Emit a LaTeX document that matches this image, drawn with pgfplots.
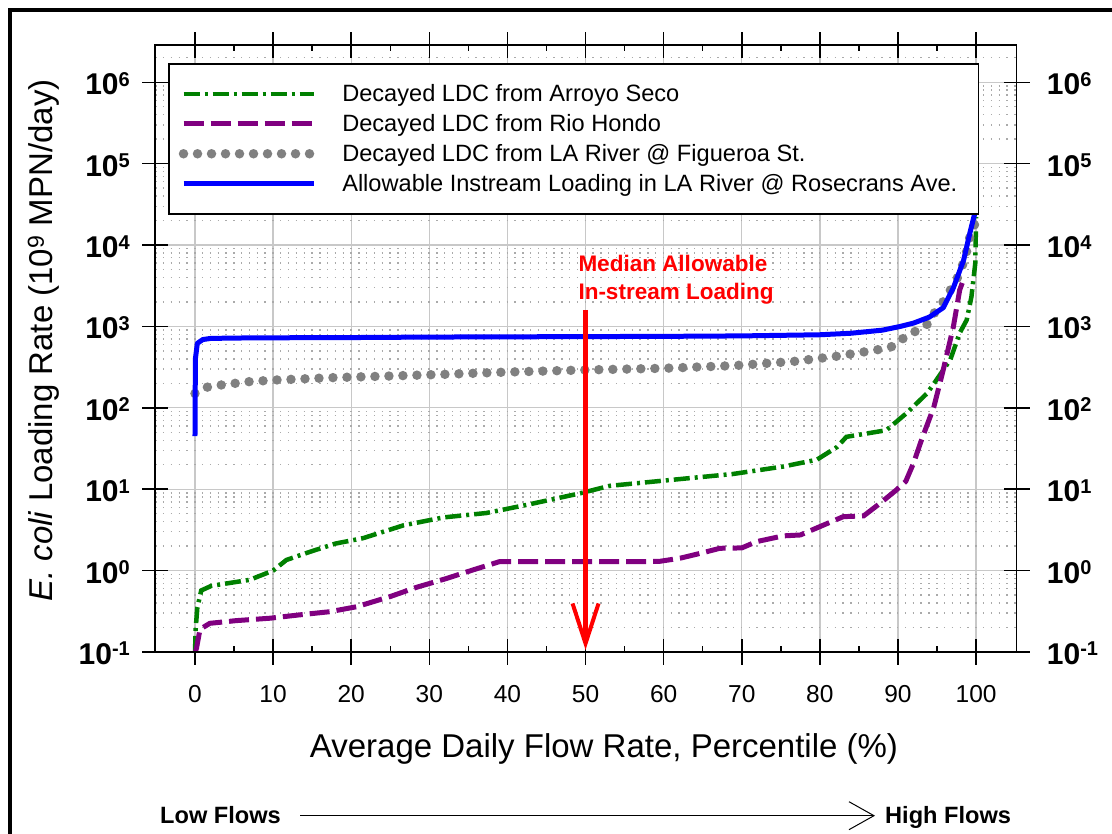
\documentclass[border=0pt]{standalone}
\usepackage{fontspec}
\setmainfont{Liberation Sans}
\usepackage{pgfplots}
\pgfplotsset{compat=1.18}
\usetikzlibrary{arrows.meta}

\definecolor{cgreen}{RGB}{0,128,0}
\definecolor{cpurple}{RGB}{128,0,128}
\definecolor{cgray}{RGB}{128,128,128}
\definecolor{cblue}{RGB}{0,0,255}
\definecolor{cred}{RGB}{255,0,0}
\definecolor{majgrid}{RGB}{200,200,200}
\definecolor{mingrid}{RGB}{170,170,170}

\newcommand{\ylab}[1]{\textbf{10\raisebox{8.5pt}{\fontsize{20}{20}\selectfont #1}}}

\begin{document}
\begin{tikzpicture}
\path[use as bounding box] (0,0) rectangle (1112pt,834pt);

% main axis: grid, data, legend, labels
\begin{axis}[
  at={(155pt,182pt)}, anchor=south west, scale only axis,
  width=861.7pt, height=607pt,
  xmin=-5.12, xmax=105.2, ymode=log, ymin=0.1, ymax=2.87e6,
  axis line style={line width=1.5pt},
  tick style={black, line width=1.5pt},
  xtick={0,10,...,100},
  ytick={0.1,1,10,100,1000,10000,100000,1000000},
  minor ytick={0.2,0.3,0.4,0.5,0.6,0.7,0.8,0.9,2,3,4,5,6,7,8,9,20,30,40,50,60,70,80,90,200,300,400,500,600,700,800,900,2000,3000,4000,5000,6000,7000,8000,9000,20000,30000,40000,50000,60000,70000,80000,90000,200000,300000,400000,500000,600000,700000,800000,900000,2000000},
  tick align=inside, major tick length=13pt, minor tick length=0pt,
  grid=both,
  major grid style={majgrid, line width=1.3pt},
  minor grid style={mingrid, line width=1.4pt, dash pattern=on 1.4pt off 6.41pt, dash phase=7.7pt},
  /pgf/number format/assume math mode=true,
  xticklabel style={font=\fontsize{24.5}{29}\selectfont, anchor=base, yshift=-51pt},
  yticklabels={\ylab{-1},\ylab{0},\ylab{1},\ylab{2},\ylab{3},\ylab{4},\ylab{5},\ylab{6}},
  yticklabel style={font=\fontsize{30}{36}\selectfont, anchor=base east, inner sep=0pt, xshift=-25pt, yshift=-12.5pt},
  legend style={at={(axis description cs:0.0151,0.9703)}, anchor=north west,
    draw=black, line width=1.5pt, fill=white, inner xsep=10pt, inner ysep=18pt,
    row sep=6pt, font=\fontsize{23.6}{28}\selectfont,
    nodes={inner sep=0pt, text height=20pt, text depth=4pt},
    /tikz/every odd column/.append style={column sep=24pt}},
  legend cell align=left,
  legend image code/.code={\draw[#1] (0pt,0pt) -- (130pt,0pt);},
]
\addplot[cgreen, line width=4.5pt, dash pattern=on 16pt off 5pt on 3pt off 5pt] coordinates {
(0,0.1) (0.1,0.2) (0.3,0.35) (0.8,0.57) (2.1,0.65) (7,0.77) (10,1.0) (11.7,1.35) (14.7,1.7) (18,2.15) (21.5,2.5) (26.7,3.6) (31.8,4.5) (37.3,5.1) (42.4,6.4) (49.3,8.9) (53.1,11) (58.7,12.4) (68.9,15.4) (75.3,19) (79.6,23) (82.2,33) (83.4,44) (88.5,53) (91.1,86) (93.7,150) (94.3,180) (96.7,390) (97.9,830) (98.8,1200) (99.4,2300) (99.9,6000) (100,22000)
};
\addlegendentry{Decayed LDC from Arroyo Seco}
\addplot[cpurple, line width=5pt, dash pattern=on 20pt off 7pt] coordinates {
(0.05,0.1) (0.2,0.112) (0.64,0.19) (1.9,0.225) (5.3,0.243) (9.6,0.26) (13.4,0.286) (17.3,0.313) (20.7,0.36) (25,0.48) (28.4,0.625) (32.2,0.8) (35.6,1.02) (39,1.29) (57,1.29) (59.5,1.3) (62.1,1.42) (64.7,1.63) (67.2,1.88) (70,1.9) (71.9,2.27) (75.3,2.67) (77.5,2.74) (80,3.47) (83,4.6) (85.6,4.7) (87.7,6.7) (89.8,9.8) (91,12.5) (92,21) (93,40) (94.6,103) (95.8,294) (97.1,1000) (97.9,2800) (98.4,3800)
};
\addlegendentry{Decayed LDC from Rio Hondo}
\addplot[cgray, line width=9.5pt, line cap=round, dash pattern=on 0pt off 14pt] coordinates {
(0,150) (1.5,179) (3.4,191) (7,210) (10.5,220) (17.7,235) (25,246) (32,258) (40,275) (50,292) (60,306) (69,330) (76.6,371) (82,428) (87.3,515) (89.2,565) (90.7,716) (92.4,890) (94,1100) (94.8,1550) (96,2130) (97.7,4100) (98.6,6900) (99.2,12600) (100,20000)
};
\addlegendentry{Decayed LDC from LA River @ Figueroa St.}
\addplot[cblue, line width=5pt, line join=round] coordinates {
(0,45) (0.05,400) (0.3,620) (1,690) (2,712) (5,720) (10,725) (20,730) (30,740) (40,745) (50,750) (60,755) (70,765) (80,790) (84,825) (88,900) (90.3,1000) (92,1100) (94,1300) (95.8,1700) (97.1,3000) (98.4,6500) (99.2,14000) (99.9,26000)
};
\addlegendentry{Allowable Instream Loading in LA River @ Rosecrans Ave.\hspace*{11pt}}
\draw[cred, line width=5pt, -{Straight Barb[length=40pt, width=26pt, line width=4pt]}] (axis cs:50,1595) -- (axis cs:50,0.106);
\end{axis}

% outside halves of major ticks, right labels
\begin{axis}[
  at={(155pt,182pt)}, anchor=south west, scale only axis,
  width=861.7pt, height=607pt,
  xmin=-5.12, xmax=105.2, ymode=log, ymin=0.1, ymax=2.87e6,
  axis line style={line width=1.5pt},
  tick style={black, line width=1.5pt},
  xtick={0,10,...,100}, xticklabels={},
  ytick={0.1,1,10,100,1000,10000,100000,1000000},
  tick align=outside, major tick length=13pt, minor tick length=0pt,
  yticklabel pos=right,
  yticklabels={\ylab{-1},\ylab{0},\ylab{1},\ylab{2},\ylab{3},\ylab{4},\ylab{5},\ylab{6}},
  yticklabel style={font=\fontsize{30}{36}\selectfont, anchor=base west, inner sep=0pt, xshift=17pt, yshift=-12.5pt},
]
\end{axis}

% minor ticks
\begin{axis}[
  at={(155pt,182pt)}, anchor=south west, scale only axis,
  width=861.7pt, height=607pt,
  xmin=-5.12, xmax=105.2, ymode=log, ymin=0.1, ymax=2.87e6,
  axis line style={line width=1.5pt},
  tick style={black, line width=1.5pt},
  xtick={5,15,...,95}, xticklabels={},
  ytick=\empty,
  minor ytick={0.2,0.3,0.4,0.5,0.6,0.7,0.8,0.9,2,3,4,5,6,7,8,9,20,30,40,50,60,70,80,90,200,300,400,500,600,700,800,900,2000,3000,4000,5000,6000,7000,8000,9000,20000,30000,40000,50000,60000,70000,80000,90000,200000,300000,400000,500000,600000,700000,800000,900000,2000000},
  tick align=inside, major tick length=6.5pt, minor tick length=10pt,
]
\end{axis}

\node[anchor=base west, inner sep=0pt, text=cred, font=\bfseries\fontsize{22.5}{27}\selectfont] at (578.3pt,562.3pt) {Median Allowable};
\node[anchor=base west, inner sep=0pt, text=cred, font=\bfseries\fontsize{22.5}{27}\selectfont] at (578.3pt,534pt) {In-stream Loading};

\node[anchor=base, inner sep=0pt, font=\fontsize{33}{40}\selectfont] at (604pt,76pt) {Average Daily Flow Rate, Percentile (\%)};
\node[anchor=base, inner sep=0pt, rotate=90, font=\fontsize{33}{40}\selectfont] at (53pt,493.5pt) {\textit{E. coli} Loading Rate (10\textsuperscript{9} MPN/day)};

\node[anchor=base west, inner sep=0pt, font=\bfseries\fontsize{23.6}{28}\selectfont] at (160pt,10.7pt) {Low Flows};
\node[anchor=base west, inner sep=0pt, font=\bfseries\fontsize{23.6}{28}\selectfont] at (885pt,10.7pt) {High Flows};
\draw[line width=1pt, -{Straight Barb[length=25pt, width=28pt]}] (300pt,18.3pt) -- (875pt,18.3pt);

\draw[line width=4pt] (9.5pt,0pt) -- (9.5pt,823.7pt) -- (1112pt,823.7pt);
\end{tikzpicture}
\end{document}
